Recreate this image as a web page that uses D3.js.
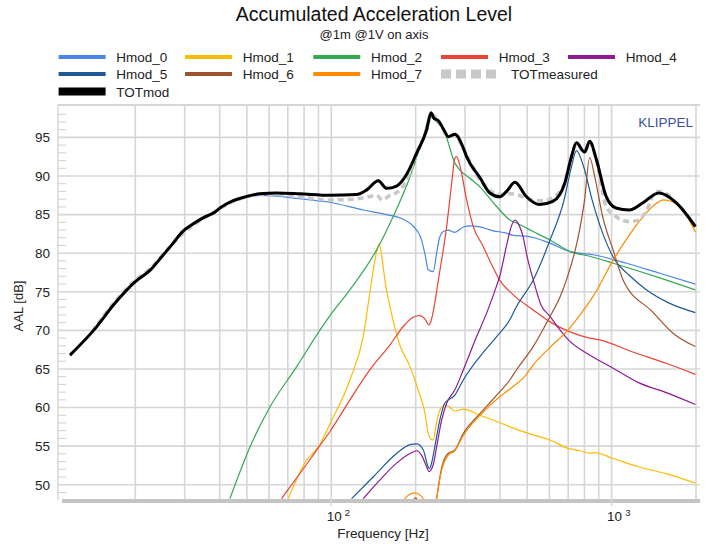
<!DOCTYPE html>
<html>
<head>
<meta charset="utf-8">
<script src="https://cdn.jsdelivr.net/npm/d3@7"></script>
<style>
  html, body { margin: 0; padding: 0; background: #fff; }
  svg { display: block; font-family: "Liberation Sans", Arial, sans-serif; }
</style>
</head>
<body>
<svg id="chart" width="707" height="545"></svg>
<script>
// ---------------- DATA ----------------
const title = "Accumulated Acceleration Level";
const subtitle = "@1m @1V on axis";
const yTicks = [50, 55, 60, 65, 70, 75, 80, 85, 90, 95];
const xGrid = [20, 30, 40, 50, 60, 70, 80, 90, 100, 200, 300, 400, 500, 600, 700, 800, 900, 1000, 2000];
const xLabels = [{ f: 100, base: "10", exp: "2" }, { f: 1000, base: "10", exp: "3" }];
const seriesNames = ["Hmod_0", "Hmod_1", "Hmod_2", "Hmod_3", "Hmod_4", "Hmod_5", "Hmod_6", "Hmod_7", "TOTmeasured", "TOTmod"];

const hmod0 = [[11.7,66.7],[14.2,69.9],[17,73.5],[20,76.2],[22.6,77.7],[25.2,79.7],[27.3,81.2],[29.3,82.6],[32.2,83.7],[35.4,84.6],[38.4,85.2],[40.6,85.9],[44.7,86.7],[49.9,87.25],[55.6,87.5],[63.9,87.4],[75.3,87.1],[99,86.6],[130,85.6],[157.6,85.0],[180.6,84.4],[196,83.5],[210,81.7],[217,79.5],[221.7,77.85],[231,77.6],[237.6,80.0],[243,81.9],[251,82.8],[261,83.0],[276,82.7],[296,83.4],[312,83.55],[339,83.4],[378,82.9],[422,82.6],[446,82.3],[497,82.2],[603,81.3],[711,80.2],[859,79.8],[1130,78.7],[1486,77.4],[1990,76.0]];
const hmod1 = [[70.3,48.2],[81.7,53.2],[90,54.9],[99,57.9],[116.6,63.6],[130,69.2],[139.4,76.5],[144,79.6],[148.3,81.2],[151.5,79.5],[155.4,76.5],[164,72.2],[174.8,68.3],[191,65.3],[204,62.3],[216,59.25],[221.7,56.65],[227,55.9],[231,55.8],[237,57.9],[243,59.5],[248,60.1],[258,60.3],[276,59.55],[296,59.8],[339,59.0],[389,58.2],[434,57.5],[525,56.45],[603,55.8],[700,54.7],[772,54.4],[835,54.1],[871,54.15],[1013,53.4],[1254,52.3],[1575,51.4],[1990,50.2]];
const hmod2 = [[43.5,48.2],[51.3,54.9],[60.5,60.1],[75.3,65.3],[91,70.0],[99,71.9],[113.5,74.7],[123,76.4],[145,80.4],[166.3,84.75],[191,89.9],[213,95.1],[225,97.7],[235,97.2],[254,95.6],[276,91.7],[287,90.8],[312,89.7],[339,88.6],[389,86.05],[434,84.3],[458,83.9],[525,82.8],[603,81.7],[711,80.2],[835,79.6],[1013,78.7],[1486,76.8],[1990,75.25]];
const hmod3 = [[66.5,48.2],[80,52.2],[90,54.8],[99,56.9],[116.6,61.0],[137.4,64.9],[161.8,68.1],[180.6,70.5],[196,71.7],[207,71.9],[216,71.45],[223,70.7],[226,71.0],[231,72.4],[241,76.5],[258,83.45],[269,89.1],[276,92.3],[280,92.5],[287,91.5],[304,86.9],[321,83.45],[348,80.9],[370,78.8],[399,76.5],[446,74.6],[525,72.65],[603,71.1],[711,69.8],[835,69.0],[899,68.8],[1190,67.2],[1575,65.7],[1990,64.3]];
const hmod4 = [[130,48.2],[149,50.6],[171,52.8],[191,54.05],[202,54.4],[210,53.8],[219,52.3],[223,51.7],[231,52.55],[237.6,54.9],[247.7,58.4],[258,60.55],[276,62.3],[296,64.9],[330,69.2],[358,72.2],[389,75.8],[399,77.0],[422,81.0],[440,83.6],[452,84.3],[465,83.8],[482,82.3],[500,79.5],[525,76.6],[560,73.3],[603,71.8],[650,70.2],[700,68.8],[835,66.8],[1013,65.1],[1254,63.2],[1575,61.9],[1990,60.4]];
const hmod5 = [[118.2,48.2],[141,51.0],[171,54.05],[191,55.2],[202,55.3],[213,54.5],[221.7,52.3],[224,52.1],[228,52.8],[234,54.9],[244,58.4],[254,60.55],[276,61.6],[296,63.6],[339,66.6],[389,69.2],[434,71.4],[458,73.1],[525,76.5],[603,81.7],[677,86.9],[719,91.2],[749,93.3],[795,91.2],[852,86.9],[929,82.6],[1028,79.1],[1150,77.2],[1326,75.3],[1612,73.5],[1990,72.3]];
const hmod6 = [[193,47.6],[200,48.3],[206,47.6],[237.6,48.2],[248,52.3],[261,54.05],[276,54.5],[296,56.65],[339,59.2],[389,61.6],[434,63.6],[458,64.9],[525,67.9],[603,71.8],[654,74.3],[694,76.8],[765,82.6],[801,86.9],[835,92.4],[871,89.9],[929,84.75],[1013,80.4],[1100,76.5],[1400,72.4],[1660,69.6],[1990,67.9]];
const hmod7 = [[176,47.0],[185,48.4],[199,48.95],[210,48.5],[218,47.0],[237.6,48.2],[248,52.0],[261,53.8],[276,54.4],[296,56.4],[339,59.0],[399,61.4],[434,62.4],[497,64.3],[525,65.5],[603,67.8],[694,69.9],[795,72.65],[859,74.4],[1013,79.1],[1190,83.0],[1400,86.05],[1535,86.9],[1750,86.05],[1990,82.7]];
const totMeasured = [[14,69.8],[17,73.8],[20,76.5],[22.6,78.0],[25.2,79.9],[29.3,82.4],[32.2,83.6],[35.4,84.6],[40.6,85.9],[44.7,86.7],[49.9,87.3],[55.6,87.6],[63.9,87.6],[77,87.3],[99,86.9],[120,87.0],[135.5,87.3],[145,87.5],[152,86.9],[159.7,87.35],[178,88.4],[190,90.3],[202,93.0],[219,96.0],[226.8,98.0],[240,97.3],[261,95.2],[276,95.3],[296,93.5],[339,89.5],[373,88.0],[400,87.6],[430,87.7],[460,87.6],[502,87.0],[570,86.8],[626,87.35],[681,89.1],[719,92.5],[749,94.2],[801,93.0],[835,94.3],[883,92.0],[956,86.05],[1036,84.75],[1156,84.1],[1254,84.3],[1326,85.4],[1443,88.0],[1500,88.0],[1705,86.5],[1990,83.45]];
const totMod = [[11.7,66.8],[14.2,70.0],[17,73.6],[20,76.3],[22.6,77.8],[25.2,79.8],[27.3,81.3],[29.3,82.7],[32.2,83.8],[35.4,84.7],[38.4,85.3],[40.6,86.0],[44.7,86.8],[49.9,87.35],[55.6,87.7],[63.9,87.8],[77,87.7],[99,87.5],[123,87.6],[133.8,88.2],[147,89.4],[157.6,88.4],[171,88.7],[185.6,90.2],[201.8,93.0],[219,96.0],[226.8,98.2],[232.4,97.5],[240.7,97.2],[252,96.0],[261.4,95.1],[276,95.4],[296,93.6],[304,92.5],[339,89.8],[368,87.8],[399,87.3],[422,88.0],[452,89.2],[496,87.35],[554,86.3],[617,86.7],[681,89.1],[719,92.5],[749,94.3],[801,93.1],[835,94.5],[883,92.1],[956,87.35],[1036,85.85],[1156,85.6],[1290,86.5],[1475,87.8],[1705,86.5],[1990,83.45]];

const seriesData = [hmod0, hmod1, hmod2, hmod3, hmod4, hmod5, hmod6, hmod7, totMeasured, totMod];
const seriesColors = ["#4a86e8", "#fbbc04", "#34a853", "#ea4335", "#8e1a94", "#1c5a96", "#a0522d", "#ff8c00", "#c8c8c8", "#000000"];
// legend slots (row, column) for each series
const legendSlots = [[0,0],[0,1],[0,2],[0,3],[0,4],[1,0],[1,1],[1,2],[1,3],[2,0]];

// ---------------- LAYOUT ----------------
const svg = d3.select("#chart");
const plot = { left: 58, right: 696, top: 105, bottom: 499 };
const x = d3.scaleLog().domain([10.6, 2000]).range([plot.left, plot.right]);
const y = d3.scaleLinear().domain([48.15, 99.2]).range([plot.bottom, plot.top]);

// Title
svg.append("text").attr("x", 374).attr("y", 21).attr("text-anchor", "middle")
  .attr("font-size", 19.5).attr("fill", "#111").text(title);
svg.append("text").attr("x", 374).attr("y", 38.5).attr("text-anchor", "middle")
  .attr("font-size", 13).attr("fill", "#222").text(subtitle);

// Grid
const grid = svg.append("g");
grid.selectAll("line.h").data(yTicks).join("line")
  .attr("x1", plot.left).attr("x2", plot.right + 4)
  .attr("y1", d => y(d)).attr("y2", d => y(d))
  .attr("stroke", "#d6d6d6").attr("stroke-width", 1.6);
grid.selectAll("line.v").data(xGrid).join("line")
  .attr("x1", d => x(d)).attr("x2", d => x(d))
  .attr("y1", plot.top).attr("y2", plot.bottom)
  .attr("stroke", "#d6d6d6").attr("stroke-width", 1.6);
grid.append("line").attr("x1", plot.left).attr("x2", plot.right + 4)
  .attr("y1", plot.top).attr("y2", plot.top)
  .attr("stroke", "#d6d6d6").attr("stroke-width", 2);
grid.append("line").attr("x1", plot.left).attr("x2", plot.left)
  .attr("y1", plot.top).attr("y2", plot.bottom + 1)
  .attr("stroke", "#d0d0d0").attr("stroke-width", 1.2);
const minor = d3.range(49, 99, 1).filter(v => v % 5 !== 0);
grid.selectAll("line.m").data(minor).join("line")
  .attr("x1", plot.left).attr("x2", plot.left + 8)
  .attr("y1", d => y(d)).attr("y2", d => y(d))
  .attr("stroke", "#d0d0d0").attr("stroke-width", 1);

svg.append("rect").attr("x", 62).attr("y", plot.bottom).attr("width", 700 - 62).attr("height", 4)
  .attr("fill", "#c4c4c4");
svg.selectAll("line.dt").data(xLabels).join("line")
  .attr("x1", d => x(d.f)).attr("x2", d => x(d.f))
  .attr("y1", plot.bottom).attr("y2", plot.bottom + 7)
  .attr("stroke", "#d6d6d6").attr("stroke-width", 1.6);

svg.selectAll("text.yt").data(yTicks).join("text")
  .attr("x", 50).attr("y", d => y(d) + 4.8).attr("text-anchor", "end")
  .attr("font-size", 13.5).attr("fill", "#222").text(d => d);

const xl = svg.selectAll("text.xt").data(xLabels).join("text")
  .attr("x", d => x(d.f) - 4.5).attr("y", 521).attr("font-size", 13.5).attr("fill", "#222");
xl.append("tspan").text(d => d.base);
xl.append("tspan").attr("dx", 3).attr("dy", -5).attr("font-size", 9.5).text(d => d.exp);

svg.append("text").attr("x", 383).attr("y", 538).attr("text-anchor", "middle")
  .attr("font-size", 13.5).attr("fill", "#222").text("Frequency [Hz]");
svg.append("text").attr("transform", "translate(23,306) rotate(-90)").attr("text-anchor", "middle")
  .attr("font-size", 13).attr("fill", "#222").text("AAL [dB]");

svg.append("text").attr("x", 693).attr("y", 126.5).attr("text-anchor", "end")
  .attr("font-size", 13.5).attr("fill", "#3d4f9f").text("KLIPPEL");

// Curves
svg.append("clipPath").attr("id", "clip").append("rect")
  .attr("x", plot.left).attr("y", plot.top).attr("width", plot.right - plot.left + 2).attr("height", plot.bottom - plot.top);
const line = d3.line().x(d => x(d[0])).y(d => y(d[1])).curve(d3.curveMonotoneX);
const curves = svg.append("g").attr("clip-path", "url(#clip)");

function splitSeg(data) {
  const segs = []; let cur = [];
  data.forEach((d, i) => {
    if (i > 0 && data[i - 1][1] < 48.0 && d[0] - data[i - 1][0] > 15) { segs.push(cur); cur = []; }
    cur.push(d);
  });
  segs.push(cur);
  return segs;
}

seriesData.forEach((data, i) => {
  const name = seriesNames[i];
  const w = name === "TOTmod" ? 3 : (name === "TOTmeasured" ? 3.5 : 1.2);
  splitSeg(data).forEach(seg => {
    curves.append("path").datum(seg).attr("d", line).attr("fill", "none")
      .attr("stroke", seriesColors[i]).attr("stroke-width", w)
      .attr("stroke-linejoin", "round")
      .attr("stroke-dasharray", name === "TOTmeasured" ? "6,4" : null);
  });
});

// Legend
const legendCols = [58.6, 185, 313.3, 441, 568];
const legendRows = [57, 74, 91.5];
const lg = svg.append("g");
seriesNames.forEach((name, i) => {
  const [row, col] = legendSlots[i];
  const lx = legendCols[col], ly = legendRows[row];
  if (name === "TOTmeasured") {
    lg.append("line").attr("x1", lx).attr("x2", lx + 56).attr("y1", ly).attr("y2", ly)
      .attr("stroke", seriesColors[i]).attr("stroke-width", 9).attr("stroke-dasharray", "10,5");
    lg.append("text").attr("x", lx + 70).attr("y", ly + 5).attr("font-size", 13.5).attr("fill", "#222").text(name);
  } else {
    lg.append("line").attr("x1", lx).attr("x2", lx + 47).attr("y1", ly).attr("y2", ly)
      .attr("stroke", seriesColors[i]).attr("stroke-width", name === "TOTmod" ? 8 : 4);
    lg.append("text").attr("x", lx + 57.7).attr("y", ly + 5).attr("font-size", 13.5).attr("fill", "#222").text(name);
  }
});
</script>
</body>
</html>
